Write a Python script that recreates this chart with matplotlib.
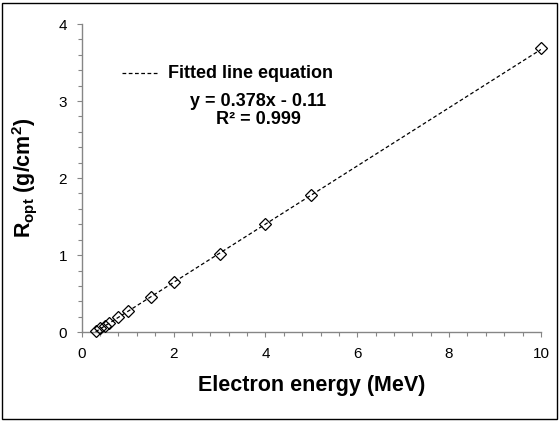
import numpy as np
import matplotlib
matplotlib.use("Agg")
import matplotlib.pyplot as plt
from matplotlib.ticker import MultipleLocator
from matplotlib.patches import Rectangle

plt.rcParams['font.family'] = ['Liberation Sans', 'DejaVu Sans']
plt.rcParams['mathtext.fontset'] = 'custom'
plt.rcParams['mathtext.rm'] = 'Liberation Sans'
plt.rcParams['mathtext.bf'] = 'Liberation Sans:bold'

# data
energy = [0.3, 0.4, 0.5, 0.6, 0.8, 1.0, 1.5, 2.0, 3.0, 4.0, 5.0, 10.0]
r_opt = [0.02, 0.05, 0.08, 0.12, 0.19, 0.27, 0.46, 0.65, 1.02, 1.40, 1.78, 3.69]
slope = 0.378
intercept = -0.11

x_ticks = [0, 2, 4, 6, 8, 10]
y_ticks = [0, 1, 2, 3, 4]

fig = plt.figure(figsize=(5.6, 4.22), dpi=100)
ax = fig.add_axes([0.146, 0.213, 0.82, 0.73])

# fitted line
xf = np.array([energy[0], energy[-1]])
ax.plot(xf, slope * xf + intercept, color='black', lw=0.9, dashes=(3, 2), zorder=2)

# data points
ax.plot(energy, r_opt, linestyle='none', marker='D', markersize=6.5,
        markerfacecolor='none', markeredgecolor='black', markeredgewidth=0.9,
        zorder=3, clip_on=False)

ax.set_xlim(0, 10)
ax.set_ylim(0, 4)
ax.set_xticks(x_ticks)
ax.set_yticks(y_ticks)
ax.xaxis.set_minor_locator(MultipleLocator(0.4))
ax.yaxis.set_minor_locator(MultipleLocator(0.2))

for s in ['top', 'right']:
    ax.spines[s].set_visible(False)
for s in ['left', 'bottom']:
    ax.spines[s].set_color('#868686')
    ax.spines[s].set_linewidth(1.0)

ax.tick_params(which='both', direction='out', color='#868686', width=0.8)
ax.tick_params(which='major', length=3.5, labelsize=11, pad=7)
ax.tick_params(which='minor', length=3)

ax.set_xlabel('Electron energy (MeV)', fontsize=15.5, fontweight='bold', labelpad=10)
ax.set_ylabel(r'R$_{\mathbf{opt}}$ (g/cm$^{\mathbf{2}}$)', fontsize=15.5,
              fontweight='bold', labelpad=14)

# legend-like annotation
ax.plot([122 / 560, 158 / 560], [1 - 73 / 422] * 2, transform=fig.transFigure,
        color='black', lw=0.9, dashes=(3, 2), clip_on=False)
fig.text(168 / 560, 1 - 73 / 422, 'Fitted line equation', fontsize=13,
         fontweight='bold', va='center', ha='left')
fig.text(258 / 560, 1 - 102 / 422, 'y = 0.378x - 0.11', fontsize=13,
         fontweight='bold', va='center', ha='center')
fig.text(258 / 560, 1 - 119 / 422, 'R² = 0.999', fontsize=13,
         fontweight='bold', va='center', ha='center')

# chart border
fig.patches.append(Rectangle((0.004, 0.006), 0.99, 0.986, transform=fig.transFigure,
                             fill=False, edgecolor='black', lw=1.0))

fig.savefig('out.png', dpi=100)
